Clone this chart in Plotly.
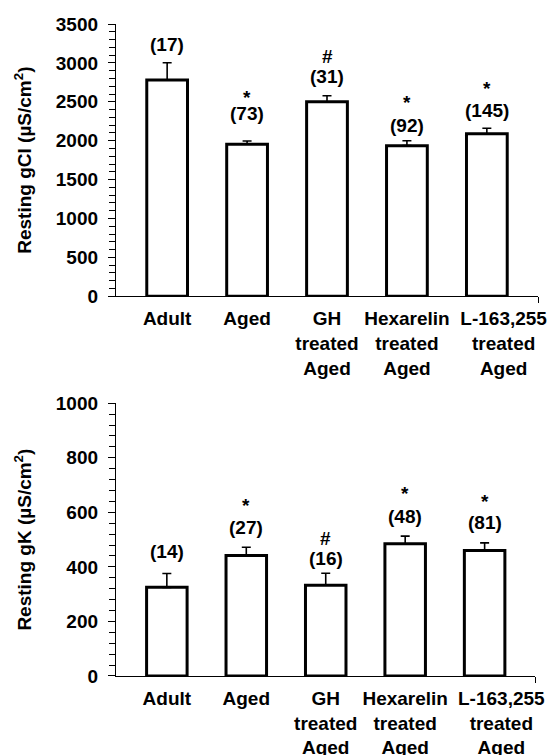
import plotly.graph_objects as go

# Groups (tick labels) and measured means / SEM
groups = ["Adult", "Aged", "GH treated Aged", "Hexarelin treated Aged", "L-163,255 treated Aged"]
group_labels = ["Adult", "Aged", "GH<br>treated<br>Aged", "Hexarelin<br>treated<br>Aged",
                "L-163,255<br>treated<br>Aged"]

gcl_mean = [2780, 1954, 2501, 1936, 2090]
gcl_sem = [222, 42, 77, 64, 69]
gcl_n = ["(17)", "(73)", "(31)", "(92)", "(145)"]
gcl_sig = ["", "*", "#", "*", "*"]

gk_mean = [325, 442, 333, 485, 460]
gk_sem = [51, 30, 44, 28, 28]
gk_n = ["(14)", "(27)", "(16)", "(48)", "(81)"]
gk_sig = ["", "*", "#", "*", "*"]

FONT = "Liberation Sans, Arial, Helvetica, sans-serif"
FS = 19
x_pos = list(range(len(groups)))

# category labels: the last one is nudged right so it clears its neighbour
label_nudge = [0, 0, 0, 0, 0.21]
label_pos = [p + d for p, d in zip(x_pos, label_nudge)]

# pixel offsets of the "(n)" line and the significance mark above each error bar
gcl_n_shift = [18, 28, 19, 15, 18]
gcl_sig_shift = [0, 44, 39, 38, 40]
gk_n_shift = [22, 20, 15, 20, 20]
gk_sig_shift = [0, 42, 35, 43, 41]

fig = go.Figure()


def add_panel(mean, sem, xa, ya):
    fig.add_trace(go.Bar(
        x=x_pos, y=mean, width=0.51,
        marker=dict(color="white", line=dict(color="black", width=3)),
        error_y=dict(type="data", symmetric=False, array=sem, arrayminus=[0] * len(sem),
                     color="black", thickness=1.6, width=4.5),
        xaxis=xa, yaxis=ya, showlegend=False, hoverinfo="skip",
    ))


def add_labels(mean, sem, ns, sigs, n_shift, sig_shift, xref, yref):
    for i, (m, s) in enumerate(zip(mean, sem)):
        top = m + s
        fig.add_annotation(x=x_pos[i], y=top, xref=xref, yref=yref, text=ns[i],
                           showarrow=False, yanchor="middle", yshift=n_shift[i],
                           font=dict(family=FONT, size=FS, color="black", weight="bold"))
        if sigs[i]:
            fig.add_annotation(x=x_pos[i], y=top, xref=xref, yref=yref, text=sigs[i],
                               showarrow=False, yanchor="middle", yshift=sig_shift[i],
                               font=dict(family=FONT, size=FS, color="black", weight="bold"))


add_panel(gcl_mean, gcl_sem, "x", "y")
add_panel(gk_mean, gk_sem, "x2", "y2")
add_labels(gcl_mean, gcl_sem, gcl_n, gcl_sig, gcl_n_shift, gcl_sig_shift, "x", "y")
add_labels(gk_mean, gk_sem, gk_n, gk_sig, gk_n_shift, gk_sig_shift, "x2", "y2")

tickfont = dict(family=FONT, size=FS, color="black", weight="bold")
xcommon = dict(
    range=[-0.64, 4.64], tickmode="array", tickvals=label_pos, ticktext=group_labels,
    tickangle=0, showline=True, linecolor="black", linewidth=1.3, ticks="",
    ticklabelstandoff=5,
    showgrid=False, zeroline=False, tickfont=tickfont, automargin=False,
    minor=dict(tickmode="array", tickvals=[4.64], ticks="outside", ticklen=6,
               tickcolor="black", tickwidth=1.3, showgrid=False),
)
ycommon = dict(
    showline=True, linecolor="black", linewidth=1.3, ticks="outside", ticklen=7,
    tickwidth=1.3, tickcolor="black", showgrid=False, zeroline=False,
    ticklabelstandoff=6, tickfont=tickfont, automargin=False,
)

fig.update_layout(
    width=556, height=755,
    margin=dict(l=116, r=18, t=24, b=79),
    paper_bgcolor="white", plot_bgcolor="white",
    xaxis=dict(domain=[0, 1], anchor="y", **xcommon),
    yaxis=dict(domain=[0.5824, 1], anchor="x", range=[0, 3500], dtick=500,
               minor=dict(dtick=100, ticks="outside", ticklen=6, tickcolor="black",
                          tickwidth=1.3, showgrid=False),
               title=dict(text="Resting gCl (µS/cm<sup>2</sup>)", standoff=19,
                          font=dict(family=FONT, size=FS, color="black", weight="bold")),
               **ycommon),
    xaxis2=dict(domain=[0, 0.994], anchor="y2", **xcommon),
    yaxis2=dict(domain=[0, 0.4183], anchor="x2", range=[0, 1000], dtick=200,
                minor=dict(dtick=40, ticks="outside", ticklen=6, tickcolor="black",
                           tickwidth=1.3, showgrid=False),
                title=dict(text="Resting gK (µS/cm<sup>2</sup>)", standoff=19,
                           font=dict(family=FONT, size=FS, color="black", weight="bold")),
                **ycommon),
)

fig.write_html("out.html")
